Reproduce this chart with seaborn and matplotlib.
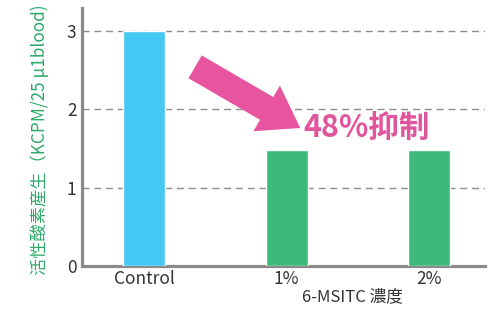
import matplotlib
matplotlib.use("Agg")
import matplotlib.pyplot as plt
import seaborn as sns
import pandas as pd

categories = ["Control", "1%", "2%"]
values = [3.0, 1.48, 1.48]
bar_colors = ["#45C8F4", "#3DB97A"]
yticks = [0, 1, 2, 3]
xlabel = "6-MSITC 濃度"
ylabel = "活性酸素産生（KCPM/25 μ1blood)"
annot_text = "48%抑制"

sns.set_theme(style="white")
plt.rcParams["font.family"] = ["Noto Sans CJK JP", "DejaVu Sans"]

df = pd.DataFrame({"cat": categories, "val": values})
palette = {categories[0]: bar_colors[0], categories[1]: bar_colors[1], categories[2]: bar_colors[1]}

fig = plt.figure(figsize=(4.9, 3.14), dpi=100)
ax = fig.add_axes([82 / 490, 48 / 314, 403 / 490, 258 / 314])

sns.barplot(data=df, x="cat", y="val", hue="cat", palette=palette, width=0.295,
            legend=False, ax=ax, saturation=1, zorder=3)

ax.set_xlim(-0.435, 2.39)
ax.set_ylim(0, 3.29)
ax.set_yticks(yticks)
ax.set_yticklabels([str(t) for t in yticks])

for t in yticks[1:]:
    ax.axhline(t, color="#8c8c8c", lw=1.0, ls=(0, (5, 3.5)), zorder=1)

for s in ["top", "right"]:
    ax.spines[s].set_visible(False)
for s in ["left", "bottom"]:
    ax.spines[s].set_color("#8a8a8a")
    ax.spines[s].set_linewidth(2.3)

ax.tick_params(axis="both", length=0, labelsize=12.5, colors="#333333")
ax.tick_params(axis="x", pad=3)
ax.tick_params(axis="y", pad=4)

ax.set_xlabel(xlabel, fontsize=12, color="#333333", va="top")
ax.xaxis.set_label_coords((352 - 82) / 403, -0.085)
ax.set_ylabel(ylabel, fontsize=12.4, color="#2EAA6A", va="center")
ax.yaxis.set_label_coords(-0.105, 0.49)

# arrow annotation
ax.annotate("", xy=(1.095, 1.76), xytext=(0.358, 2.54),
            arrowprops=dict(arrowstyle="simple,head_length=2.8,head_width=3.8,tail_width=1.9",
                            mutation_scale=10, color="#E8559F", shrinkA=0, shrinkB=0, lw=0),
            zorder=5)
ax.text(1.116, 1.76, annot_text, ha="left", va="center", fontsize=22,
        fontweight="bold", color="#E0569C", zorder=6)

fig.savefig("out.png", dpi=100)
